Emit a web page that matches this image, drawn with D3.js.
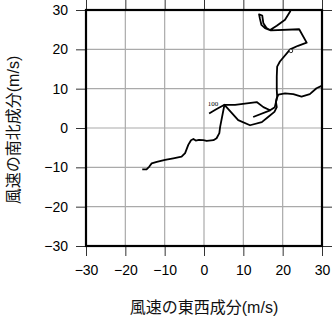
<!DOCTYPE html>
<html><head><meta charset="utf-8">
<script src="https://cdn.jsdelivr.net/npm/d3@7"></script>
<style>html,body{margin:0;padding:0;background:#fff;}</style>
</head><body><svg id="c" width="332" height="319"></svg>
<script>
// ---- data (m/s) ----
const tickValues = [-30, -20, -10, 0, 10, 20, 30];
const tickLabels = ["\u221230", "\u221220", "\u221210", "0", "10", "20", "30"];
const xTitle = "風速の東西成分(m/s)";
const yTitle = "風速の南北成分(m/s)";

// lower part of the hodograph trace
const uLower = [-15.7,-14.6,-13.9,-13.3,-12.0,-9.9,-7.8,-5.7,-4.8,-4.0,-3.3,-2.7,-2.1,-1.3,-0.2,0.7,2.4,3.2,3.9,4.1,5.2,7.9,13.4,15.1,16.8,18.0,18.5,18.9,20.6,22.7,24.8,26.9,28.6,29.9,30.6];
const vLower = [-10.5,-10.5,-9.8,-9.0,-8.6,-8.1,-7.7,-7.3,-6.4,-4.3,-3.1,-2.8,-3.2,-3.0,-3.1,-3.3,-3.1,-2.6,-1.3,0.3,5.9,5.9,6.6,5.3,4.5,5.3,7.5,8.5,8.8,8.6,8.0,8.6,10.1,10.7,11.0];
// upper part of the trace (enters from top edge)
const uUpper = [22.2,21.9,20.6,18.5,16.8,15.5,14.6,14.2,14.0,14.8,15.1,15.9,17.0,24.2,26.1,23.9,21.9,19.3,18.6,18.5,18.5,18.6,18.3,18.5,17.9,16.3,14.7,11.7,8.7,5.2,3.0,1.3];
const vUpper = [30.8,29.6,27.5,26.0,24.9,25.4,26.2,27.9,28.9,28.6,26.6,25.4,24.8,25.1,21.7,20.9,20.0,16.9,15.6,13.1,9.7,8.0,6.6,5.3,4.1,2.8,1.5,0.7,2.0,5.9,4.7,3.7];
// short separate segment
const uShort = [12.5, 16.8];
const vShort = [2.8, 4.5];
// annotations
const labelText = ["100"];
const labelU = [2.3];
const labelV = [5.5];
const markerU = [22.1];
const markerV = [19.6];

// ---- drawing ----
const svg = d3.select("#c");
const L = 86, R = 322, T = 10, B = 246;
const x = d3.scaleLinear().domain([-30, 30]).range([L, R]);
const y = d3.scaleLinear().domain([-30, 30]).range([B, T]);
const font = "'Liberation Sans', Arial, 'Noto Sans CJK JP', sans-serif";

svg.append("defs").append("clipPath").attr("id", "clip")
  .append("rect").attr("x", L).attr("y", T).attr("width", R - L).attr("height", B - T);

// grid
const grid = svg.append("g").attr("stroke", "#aaaaaa").attr("stroke-width", 1.2);
tickValues.slice(1, -1).forEach(t => {
  grid.append("line").attr("x1", x(t)).attr("x2", x(t)).attr("y1", T).attr("y2", B);
  grid.append("line").attr("y1", y(t)).attr("y2", y(t)).attr("x1", L).attr("x2", R);
});

// trace
const line = d3.line().x(d => x(d[0])).y(d => y(d[1]));
const plot = svg.append("g").attr("clip-path", "url(#clip)");
[[uLower, vLower], [uUpper, vUpper], [uShort, vShort]].forEach(([us, vs]) => {
  plot.append("path").datum(us.map((u, i) => [u, vs[i]]))
    .attr("d", line).attr("fill", "none").attr("stroke", "#000")
    .attr("stroke-width", 1.8).attr("stroke-linejoin", "round");
});
plot.selectAll("circle.m").data(markerU).join("circle")
  .attr("cx", (d, i) => x(d)).attr("cy", (d, i) => y(markerV[i])).attr("r", 1.8)
  .attr("fill", "#fff").attr("stroke", "#000").attr("stroke-width", 0.8);
plot.selectAll("text.lab").data(labelText).join("text")
  .attr("x", (d, i) => x(labelU[i])).attr("y", (d, i) => y(labelV[i]))
  .attr("text-anchor", "middle").attr("font-family", "'Liberation Serif', serif")
  .attr("font-size", 7).attr("fill", "#000").text(d => d);

// axes (ticks outward on all sides)
const fmt = (d) => tickLabels[tickValues.indexOf(d)];
const axB = d3.axisBottom(x).tickValues(tickValues).tickSize(10).tickPadding(9).tickFormat(fmt);
const axL = d3.axisLeft(y).tickValues(tickValues).tickSize(10).tickPadding(8).tickFormat(fmt);
const axT = d3.axisTop(x).tickValues(tickValues).tickSize(10).tickFormat("");
const axR = d3.axisRight(y).tickValues(tickValues).tickSize(10).tickFormat("");
const gB = svg.append("g").attr("transform", `translate(0,${B})`).call(axB);
const gL = svg.append("g").attr("transform", `translate(${L},0)`).call(axL);
const gT = svg.append("g").attr("transform", `translate(0,${T})`).call(axT);
const gR = svg.append("g").attr("transform", `translate(${R},0)`).call(axR);
[gB, gL, gT, gR].forEach(g => {
  g.select(".domain").remove();
  g.selectAll(".tick line").attr("stroke", "#333").attr("stroke-width", 1);
  g.selectAll(".tick text").attr("font-family", font).attr("font-size", 14).attr("fill", "#000");
});

// frame
svg.append("rect").attr("x", L).attr("y", T).attr("width", R - L).attr("height", B - T)
  .attr("fill", "none").attr("stroke", "#000").attr("stroke-width", 2.2);

// titles
svg.append("text").attr("x", (L + R) / 2).attr("y", 313)
  .attr("text-anchor", "middle").attr("font-family", font).attr("font-size", 16)
  .attr("fill", "#111").text(xTitle);
svg.append("text").attr("transform", `translate(19,${(T + B) / 2 + 2}) rotate(-90)`)
  .attr("text-anchor", "middle").attr("font-family", font).attr("font-size", 16)
  .attr("fill", "#111").text(yTitle);
</script>
</body></html>
